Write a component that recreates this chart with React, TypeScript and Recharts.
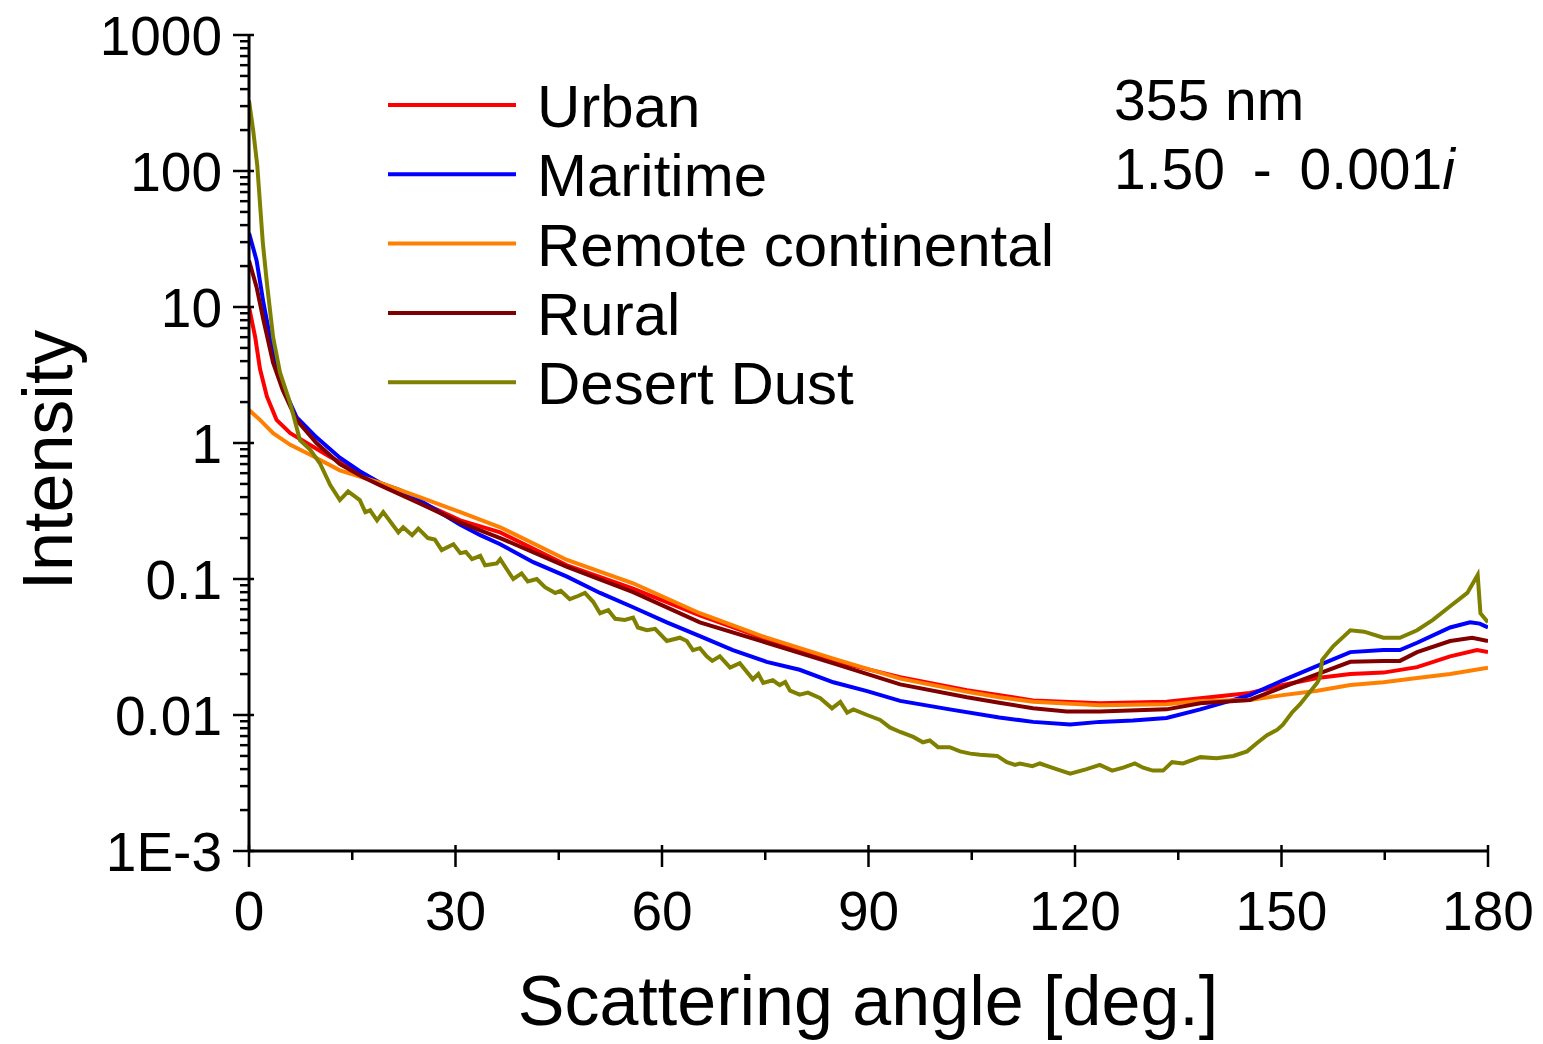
import { LineChart, Line, XAxis, YAxis, Legend } from 'recharts'

const FONT = '"Liberation Sans", Arial, Helvetica, sans-serif'

// scattering angles (deg) and phase function values
const urbanAngle = [0, 0.9, 1.6, 2.6, 4, 6, 8.4, 11.8, 15.6, 19, 24.8, 30.7, 36.5, 46.2, 55.8, 65.5, 75.2, 84.9, 94.6, 104.3, 113.9, 123.6, 133.3, 138.2, 145.4, 150.2, 155.2, 160, 164.8, 169.7, 174.5, 178.4, 180]
const urbanValue = [10, 6, 3.5, 2.2, 1.48, 1.18, 1.0, 0.79, 0.63, 0.51, 0.37, 0.27, 0.22, 0.126, 0.085, 0.054, 0.036, 0.025, 0.019, 0.0152, 0.0128, 0.0122, 0.0125, 0.0133, 0.0145, 0.0166, 0.0187, 0.02, 0.0205, 0.0225, 0.027, 0.03, 0.029]

const maritimeAngle = [0, 1.1, 2.1, 3.5, 4.9, 6.9, 9.8, 13.2, 16.1, 19, 21.9, 24.8, 27.7, 30.7, 33.6, 36.5, 41.3, 46.2, 51, 55.8, 60.7, 65.5, 70.3, 75.2, 80, 84.9, 89.8, 94.6, 101.8, 109, 113.9, 119.3, 123.6, 128.4, 133.3, 138.2, 145.4, 150.2, 155.2, 160, 164.8, 167.2, 169.7, 174.5, 177.4, 178.8, 180]
const maritimeValue = [35, 22, 10.7, 4.6, 2.6, 1.55, 1.1, 0.78, 0.62, 0.51, 0.45, 0.38, 0.31, 0.25, 0.21, 0.18, 0.133, 0.104, 0.079, 0.062, 0.048, 0.038, 0.03, 0.0246, 0.0215, 0.0174, 0.015, 0.0127, 0.011, 0.0096, 0.0089, 0.0085, 0.0089, 0.0091, 0.0095, 0.011, 0.014, 0.018, 0.023, 0.029, 0.03, 0.03, 0.034, 0.044, 0.048, 0.047, 0.044]

const remoteAngle = [0, 1.6, 3.5, 6, 8.9, 13.2, 19, 24.8, 30.7, 36.5, 46.2, 55.8, 65.5, 75.2, 84.9, 94.6, 104.3, 109, 113.9, 123.6, 133.3, 138.2, 145.4, 150.2, 155.2, 160, 164.8, 169.7, 174.5, 180]
const remoteValue = [1.75, 1.48, 1.18, 0.97, 0.82, 0.63, 0.51, 0.4, 0.31, 0.24, 0.138, 0.093, 0.056, 0.037, 0.026, 0.0185, 0.0148, 0.0135, 0.0125, 0.0118, 0.012, 0.0127, 0.0129, 0.014, 0.0151, 0.0166, 0.0174, 0.0187, 0.02, 0.0223]

const ruralAngle = [0, 1.1, 2.1, 3.5, 4.9, 6.9, 9.8, 13.2, 16.6, 19, 24.8, 30.7, 36.5, 46.2, 55.8, 65.5, 75.2, 84.9, 94.6, 104.3, 109, 113.9, 118.8, 123.6, 133.3, 138.2, 145.4, 150.2, 155.2, 160, 164.8, 167.2, 169.7, 174.5, 177.7, 180]
const ruralValue = [22, 14, 8, 3.9, 2.45, 1.48, 1.0, 0.7, 0.56, 0.49, 0.36, 0.26, 0.2, 0.123, 0.08, 0.048, 0.034, 0.024, 0.0168, 0.0135, 0.0123, 0.0112, 0.0106, 0.0106, 0.011, 0.0122, 0.0129, 0.016, 0.02, 0.0246, 0.025, 0.025, 0.029, 0.035, 0.037, 0.035]

const dustAngle = [0, 0.6, 1.2, 2.0, 2.6, 3.5, 4.5, 6, 7.4, 8.9, 10.3, 11.8, 13.2, 14.4, 16.1, 16.9, 17.6, 18.6, 19.5, 21.7, 22.4, 23.7, 24.6, 26.0, 27.0, 28.0, 29.7, 30.7, 31.5, 32.4, 33.6, 34.3, 36.0, 36.5, 37.5, 38.4, 39.6, 40.5, 41.8, 43.0, 44.5, 45.3, 46.6, 47.8, 48.8, 50.0, 51.0, 52.2, 53.2, 54.6, 55.8, 56.5, 57.8, 59.0, 60.7, 62.6, 63.6, 64.5, 65.5, 66.5, 67.3, 68.4, 69.9, 71.3, 73.2, 74.0, 74.7, 76.1, 77.1, 77.9, 78.6, 80.0, 81.2, 83.0, 84.7, 85.9, 86.9, 87.8, 89.8, 91.7, 93.1, 94.6, 96.5, 97.9, 98.9, 100.1, 101.8, 103.3, 104.8, 106.2, 108.7, 110.1, 111.3, 112.0, 113.8, 114.9, 117.3, 119.3, 121.7, 123.6, 125.4, 127.0, 128.7, 129.9, 131.3, 132.8, 134.1, 135.7, 138.2, 140.6, 143.0, 145.0, 146.4, 147.9, 149.4, 150.2, 151.5, 152.7, 155.2, 155.6, 155.9, 157.5, 160, 162, 164.8, 167.2, 169.7, 172, 174.5, 177, 178.5, 178.9, 180]
const dustValue = [330, 200, 110, 30, 15, 6, 3.3, 1.95, 1.05, 0.89, 0.71, 0.49, 0.38, 0.44, 0.38, 0.31, 0.32, 0.27, 0.31, 0.22, 0.24, 0.21, 0.235, 0.2, 0.195, 0.163, 0.18, 0.155, 0.158, 0.14, 0.148, 0.126, 0.13, 0.14, 0.117, 0.1, 0.11, 0.096, 0.1, 0.087, 0.079, 0.082, 0.071, 0.075, 0.079, 0.068, 0.056, 0.059, 0.051, 0.05, 0.052, 0.044, 0.042, 0.043, 0.035, 0.037, 0.035, 0.03, 0.031, 0.027, 0.025, 0.027, 0.0223, 0.024, 0.0183, 0.02, 0.0172, 0.018, 0.0166, 0.0175, 0.0151, 0.0141, 0.0146, 0.0133, 0.0112, 0.0125, 0.0104, 0.011, 0.01, 0.0092, 0.0081, 0.0075, 0.0069, 0.0063, 0.0065, 0.0058, 0.0058, 0.0054, 0.0052, 0.0051, 0.005, 0.0045, 0.0043, 0.0044, 0.0042, 0.0044, 0.004, 0.0037, 0.004, 0.0043, 0.0039, 0.0041, 0.0044, 0.0041, 0.0039, 0.0039, 0.0045, 0.0044, 0.0049, 0.0048, 0.005, 0.0054, 0.0062, 0.0071, 0.0078, 0.0085, 0.0104, 0.012, 0.0173, 0.019, 0.0254, 0.032, 0.042, 0.041, 0.037, 0.037, 0.042, 0.05, 0.063, 0.079, 0.107, 0.056, 0.048]

const xMajor = [0, 30, 60, 90, 120, 150, 180]
const xTicks = [0, 15, 30, 45, 60, 75, 90, 105, 120, 135, 150, 165, 180]
const yMajor = [0.001, 0.01, 0.1, 1, 10, 100, 1000]
const yMajorLabels = ['1E-3', '0.01', '0.1', '1', '10', '100', '1000']
const yTicks = yMajor.slice(0, -1).flatMap((d) => [1, 2, 3, 4, 5, 6, 7, 8, 9].map((m) => +(d * m).toPrecision(3))).concat([1000])

const toRows = (angles: number[], values: number[]) => angles.map((a, i) => ({ angle: a, v: values[i] }))

const SERIES = [
  { name: 'Urban', color: '#ff0000', rows: toRows(urbanAngle, urbanValue) },
  { name: 'Maritime', color: '#0000ff', rows: toRows(maritimeAngle, maritimeValue) },
  { name: 'Remote continental', color: '#ff8000', rows: toRows(remoteAngle, remoteValue) },
  { name: 'Rural', color: '#800000', rows: toRows(ruralAngle, ruralValue) },
  { name: 'Desert Dust', color: '#808000', rows: toRows(dustAngle, dustValue) },
]

const isMajorY = (v: number) => yMajor.some((m) => Math.abs(m - v) / m < 1e-6)

function LeftTick(props: any) {
  const { x, y, payload } = props
  const major = isMajorY(payload.value)
  const idx = yMajor.findIndex((m) => Math.abs(m - payload.value) / m < 1e-6)
  return (
    <g>
      <line x1={x - (major ? 16 : 9)} x2={x + (major ? 5 : 0)} y1={y} y2={y} stroke="#000" strokeWidth={2.5} />
      {major && (
        <text x={x - 27} y={y} dy="0.36em" textAnchor="end" fontSize={55} fontFamily={FONT} fill="#000">
          {yMajorLabels[idx]}
        </text>
      )}
    </g>
  )
}

function RightTick(props: any) {
  const { x, y, payload } = props
  const major = isMajorY(payload.value)
  return <line x1={x} x2={x - (major ? 9 : 5)} y1={y} y2={y} stroke="#000" strokeWidth={2.5} />
}

function BottomTick(props: any) {
  const { x, y, payload } = props
  const major = xMajor.includes(payload.value)
  return (
    <g>
      <line x1={x} x2={x} y1={major ? y - 6 : y} y2={y + (major ? 16 : 9)} stroke="#000" strokeWidth={2.5} />
      {major && (
        <text x={x} y={y + 79} textAnchor="middle" fontSize={55} fontFamily={FONT} fill="#000">
          {payload.value}
        </text>
      )}
    </g>
  )
}

function TopTick(props: any) {
  const { x, y } = props
  return <line x1={x} x2={x} y1={y} y2={y + 8} stroke="#000" strokeWidth={2.5} />
}

function LegendBox() {
  return (
    <svg width={720} height={360}>
      {SERIES.map((s, i) => (
        <g key={s.name}>
          <line x1={8} x2={136} y1={33 + i * 69.3} y2={33 + i * 69.3} stroke={s.color} strokeWidth={4} />
          <text x={157} y={33 + i * 69.3 + 22} fontSize={60} fontFamily={FONT} fill="#000">
            {s.name}
          </text>
        </g>
      ))}
    </svg>
  )
}

export default function App() {
  return (
    <div style={{ position: 'absolute', left: 0, top: 0, width: 1543, height: 1044, background: '#fff' }}>
      <LineChart width={1543} height={1044} margin={{ top: 35, right: 55, bottom: 0, left: 0 }}>
        <XAxis
          xAxisId="bottom"
          dataKey="angle"
          type="number"
          domain={[0, 180]}
          ticks={xTicks}
          interval={0}
          allowDataOverflow
          height={193}
          tickSize={0}
          tickMargin={0}
          tickLine={false}
          tick={BottomTick}
          axisLine={{ stroke: '#000', strokeWidth: 3 }}
          label={{
            content: () => (
              <text x={868} y={1025} textAnchor="middle" fontSize={70} fontFamily={FONT} fill="#000">
                Scattering angle [deg.]
              </text>
            ),
          }}
        />
        <XAxis
          xAxisId="top"
          orientation="top"
          dataKey="angle"
          type="number"
          domain={[0, 180]}
          ticks={xTicks}
          interval={0}
          allowDataOverflow
          height={0}
          tickSize={0}
          tickMargin={0}
          tickLine={false}
          tick={TopTick}
          axisLine={{ stroke: '#000', strokeWidth: 3 }}
        />
        <YAxis
          yAxisId="left"
          type="number"
          scale="log"
          domain={[0.001, 1000]}
          ticks={yTicks}
          interval={0}
          allowDataOverflow
          width={249}
          tickSize={0}
          tickMargin={0}
          tickLine={false}
          tick={LeftTick}
          axisLine={{ stroke: '#000', strokeWidth: 3 }}
          label={{
            content: () => (
              <text
                x={72}
                y={460}
                transform="rotate(-90, 72, 460)"
                textAnchor="middle"
                fontSize={70}
                fontFamily={FONT}
                fill="#000"
              >
                Intensity
              </text>
            ),
          }}
        />
        <YAxis
          yAxisId="right"
          orientation="right"
          type="number"
          scale="log"
          domain={[0.001, 1000]}
          ticks={yTicks}
          interval={0}
          allowDataOverflow
          width={0}
          tickSize={0}
          tickMargin={0}
          tickLine={false}
          tick={RightTick}
          axisLine={{ stroke: '#000', strokeWidth: 3 }}
        />
        {SERIES.map((s) => (
          <Line
            key={s.name}
            data={s.rows}
            dataKey="v"
            name={s.name}
            xAxisId="bottom"
            yAxisId="left"
            type="linear"
            stroke={s.color}
            strokeWidth={4}
            dot={false}
            isAnimationActive={false}
          />
        ))}
        <Line
          data={SERIES[0].rows}
          dataKey="v"
          xAxisId="top"
          yAxisId="right"
          stroke="none"
          dot={false}
          legendType="none"
          isAnimationActive={false}
        />
        <Legend
          layout="vertical"
          align="center"
          verticalAlign="middle"
          content={LegendBox}
          wrapperStyle={{ left: 380, top: 72, width: 720, height: 360 }}
        />
      </LineChart>
      <div
        style={{
          position: 'absolute',
          left: 1114,
          top: 66,
          fontFamily: FONT,
          fontSize: 57,
          lineHeight: '69px',
          color: '#000',
          whiteSpace: 'pre',
          wordSpacing: 12,
        }}
      >
        <div style={{ wordSpacing: 0 }}>355 nm</div>
        <div>
          1.50 - 0.001<span style={{ fontStyle: 'italic' }}>i</span>
        </div>
      </div>
    </div>
  )
}
